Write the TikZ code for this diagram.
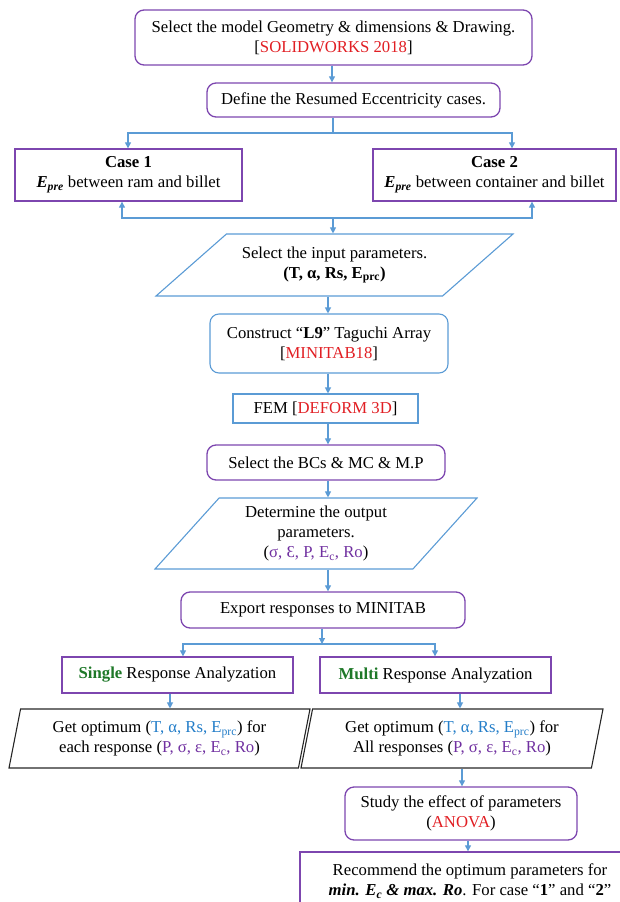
\documentclass[tikz,border=0pt]{standalone}
\usepackage{fontspec}
\setmainfont{Liberation Serif}
\usetikzlibrary{shapes.geometric, arrows.meta}
\definecolor{flowpurple}{RGB}{125,70,175}
\definecolor{flowblue}{RGB}{91,155,213}
\definecolor{textred}{RGB}{225,30,35}
\definecolor{textblue}{RGB}{35,125,200}
\definecolor{textpurple}{RGB}{112,48,160}
\definecolor{textgreen}{RGB}{30,120,40}

\begin{document}
\begin{tikzpicture}[
    x=1pt, y=-1pt,
    every node/.style={font=\fontsize{16.7}{20}\selectfont, align=center, inner sep=2pt},
    proc/.style={draw=flowpurple, line width=1.3pt, rounded corners=9pt},
    procb/.style={draw=flowblue, line width=1.1pt, rounded corners=9pt},
    rectp/.style={draw=flowpurple, line width=1.3pt},
    rectb/.style={draw=flowblue, line width=1.1pt},
    para/.style={trapezium, trapezium stretches body, draw=flowblue, line width=1.1pt},
    parak/.style={para, draw=black!85},
    conn/.style={draw=flowblue, line width=1.1pt},
    arr/.style={conn, -{Triangle[length=6pt, width=6pt]}},
  ]
    \useasboundingbox (0,0) rectangle (619,902);
    % geometry and cases
    \node[proc, minimum width=397pt, minimum height=55pt] (geom) at (333.5,37.5)
      {Select the model Geometry \& dimensions \& Drawing.\\{[}\textcolor{textred}{SOLIDWORKS 2018}{]}};
    \node[proc, minimum width=293pt, minimum height=34pt] (ecc) at (353.5,100)
      {Define the Resumed Eccentricity cases.};
    \node[rectp, minimum width=227pt, minimum height=52pt] (case1) at (128.5,175)
      {\textbf{Case 1}\\\textbf{\textit{E}\textsubscript{\textit{pre}}} between ram and billet};
    \node[rectp, minimum width=243pt, minimum height=52pt] (case2) at (494.5,175)
      {\textbf{Case 2}\\\textbf{\textit{E}\textsubscript{\textit{pre}}} between container and billet};
    % main column
    \node[para, trapezium left angle=30, trapezium right angle=150,
          minimum width=357pt, minimum height=62pt] (inp) at (334.5,265)
      {Select the input parameters.\\\textbf{(T, α, Rs, E\textsubscript{prc})}};
    \node[procb, minimum width=238pt, minimum height=59pt] (L9) at (329,343.5)
      {Construct “\textbf{L9}” Taguchi Array\\{[}\textcolor{textred}{MINITAB18}{]}};
    \node[rectb, minimum width=185pt, minimum height=29pt] (FEM) at (325.5,408.5)
      {FEM {[}\textcolor{textred}{DEFORM 3D}{]}};
    \node[proc, minimum width=238pt, minimum height=35pt] (BCs) at (326,462.5)
      {Select the BCs \& MC \& M.P};
    \node[para, trapezium left angle=42.7, trapezium right angle=137.3,
          minimum width=322pt, minimum height=71pt] (out) at (316,533.5)
      {Determine the output\\parameters.\\(\textcolor{textpurple}{σ, Ɛ, P, E\textsubscript{c}, Ro})};
    \node[proc, minimum width=284pt, minimum height=36pt] (export) at (323,610)
      {Export responses to MINITAB};
    % analysis branches
    \node[rectp, minimum width=231pt, minimum height=36pt] (single) at (177.5,675)
      {\textcolor{textgreen}{\textbf{Single}} Response Analyzation};
    \node[rectp, minimum width=231pt, minimum height=36pt] (multi) at (435.5,675)
      {\textcolor{textgreen}{\textbf{Multi}} Response Analyzation};
    \node[parak, trapezium left angle=73.6, trapezium right angle=106.4,
          minimum width=301pt, minimum height=59pt] (optS) at (159.5,738.5)
      {Get optimum (\textcolor{textblue}{T, α, Rs, E\textsubscript{prc}}) for\\each response (\textcolor{textpurple}{P, σ, ε, E\textsubscript{c}, Ro})};
    \node[parak, trapezium left angle=73.6, trapezium right angle=106.4,
          minimum width=302pt, minimum height=59pt] (optM) at (452,738.5)
      {Get optimum (\textcolor{textblue}{T, α, Rs, E\textsubscript{prc}}) for\\All responses (\textcolor{textpurple}{P, σ, ε, E\textsubscript{c}, Ro})};
    \node[proc, minimum width=232pt, minimum height=53pt] (study) at (461,813.5)
      {Study the effect of parameters\\(\textcolor{textred}{ANOVA})};
    \node[rectp, minimum width=340pt, minimum height=58pt] (recom) at (470,881)
      {Recommend the optimum parameters for\\\textbf{\textit{min. E\textsubscript{c} \& max. Ro}}. For case “\textbf{1}” and “\textbf{2}”};
    % connectors
    \coordinate (xg) at (332,0);
    \draw[arr] (xg |- geom.south) -- (xg |- ecc.north);
    \coordinate (j1) at (333,133);
    \draw[conn] (j1 |- ecc.south) -- (j1);
    \draw[arr] (j1) -| ([xshift=-0.5pt]case1.north);
    \draw[arr] (j1) -| ([xshift=17.5pt]case2.north);
    \coordinate (j2) at (333,218);
    \draw[arr] (j2) -| ([xshift=-6.5pt]case1.south);
    \draw[arr] (j2) -| ([xshift=37.5pt]case2.south);
    \draw[arr] (j2) -- (j2 |- inp.north);
    \coordinate (ax) at (328,0);
    \foreach \a/\b in {inp/L9, L9/FEM, FEM/BCs, BCs/out, out/export}
      \draw[arr] (ax |- \a.south) -- (ax |- \b.north);
    \coordinate (j3) at (322,644);
    \draw[arr] (j3 |- export.south) -- (j3);
    \draw[arr] (j3) -| ([xshift=5.5pt]single.north);
    \draw[arr] (j3) -| ([xshift=-0.5pt]multi.north);
    \coordinate (xs) at (170,0);
    \coordinate (xm) at (460,0);
    \coordinate (xo) at (462,0);
    \coordinate (xt) at (468,0);
    \draw[arr] (xs |- single.south) -- (xs |- optS.north);
    \draw[arr] (xm |- multi.south) -- (xm |- optM.north);
    \draw[arr] (xo |- optM.south) -- (xo |- study.north);
    \draw[arr] (xt |- study.south) -- (xt |- recom.north);
  \end{tikzpicture}
\end{document}
